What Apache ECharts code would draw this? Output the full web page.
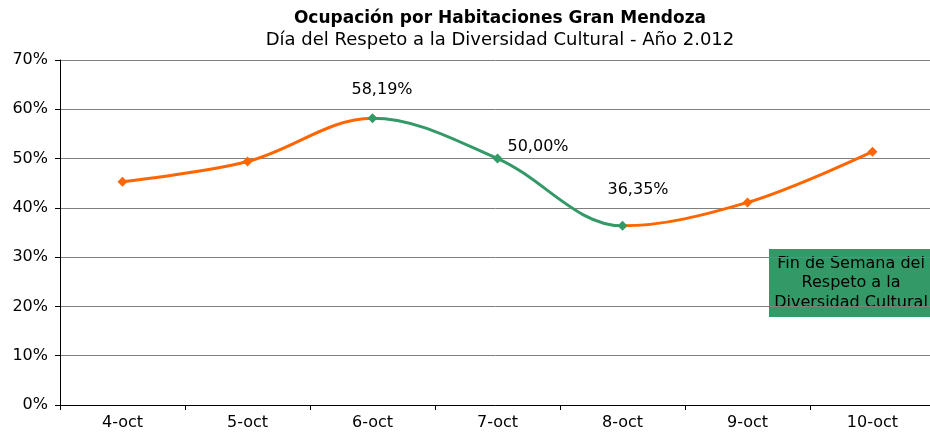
<!DOCTYPE html>
<html lang="es">
  <head>
    <meta charset="UTF-8" />
    <title>Ocupación por Habitaciones Gran Mendoza</title>
    <script src="https://cdn.jsdelivr.net/npm/echarts@6/dist/echarts.min.js"></script>
  </head>
  <body style="margin: 0">
    <div id="main" style="width: 930px; height: 440px"></div>
    <script type="text/javascript">
      const dias = ["4-oct", "5-oct", "6-oct", "7-oct", "8-oct", "9-oct", "10-oct"];
      const ocupacion = [45.3, 49.4, 58.19, 50.0, 36.35, 41.1, 51.4];
      const etiquetas = ["", "", "58,19%", "50,00%", "36,35%", "", ""];
      const yTicks = [0, 10, 20, 30, 40, 50, 60, 70];

      const naranja = "#ff6600";
      const verde = "#339966";
      const fuente = "DejaVu Sans";

      let myChart = echarts.init(document.getElementById("main"));

      // posicion de cada etiqueta respecto del marcador
      const posEtiqueta = { 2: [-16, -31], 3: [15, -15], 4: [-10, -39] };

      const datos = ocupacion.map((v, i) => {
        const item = { value: v };
        if (etiquetas[i]) {
          item.label = { show: true, formatter: etiquetas[i], position: posEtiqueta[i] };
        }
        return item;
      });

      let options = {
        animation: false,
        title: {
          text: "Ocupación por Habitaciones Gran Mendoza",
          subtext: "Día del Respeto a la Diversidad Cultural - Año 2.012",
          left: 495,
          textAlign: "center",
          top: 5,
          itemGap: 4,
          textStyle: { fontFamily: fuente, fontSize: 17, fontWeight: "bold", color: "#000" },
          subtextStyle: { fontFamily: fuente, fontSize: 18, color: "#000" },
        },
        grid: { left: 60, width: 875, top: 60, bottom: 35, outerBoundsMode: "none" },
        xAxis: {
          type: "category",
          data: dias,
          axisLine: { lineStyle: { color: "#000", width: 1 } },
          axisTick: { show: true, length: 5, lineStyle: { color: "#000" } },
          axisLabel: { fontFamily: fuente, fontSize: 16, color: "#000", margin: 10 },
        },
        yAxis: {
          type: "value",
          min: 0,
          max: 70,
          interval: 10,
          axisLine: { show: true, lineStyle: { color: "#000" } },
          axisTick: { show: true, length: 5, lineStyle: { color: "#000" } },
          axisLabel: {
            fontFamily: fuente,
            fontSize: 16,
            color: "#000",
            margin: 12,
            formatter: (v) => (yTicks.includes(v) ? v + "%" : ""),
          },
          splitLine: { lineStyle: { color: "#7f7f7f", width: 1 } },
        },
        visualMap: {
          show: false,
          type: "piecewise",
          dimension: 0,
          seriesIndex: 0,
          pieces: [
            { lt: 2, color: naranja },
            { gte: 2, lte: 4, color: verde },
            { gt: 4, color: naranja },
          ],
        },
        series: [
          {
            type: "line",
            data: datos,
            smooth: 0.35,
            symbol: "diamond",
            symbolSize: 10,
            lineStyle: { width: 3 },
            label: {
              show: false,
              fontFamily: fuente,
              fontSize: 16,
              color: "#000",
            },
          },
        ],
        graphic: [
          {
            type: "rect",
            shape: { x: 769, y: 249, width: 170, height: 68 },
            style: { fill: verde },
          },
          {
            type: "text",
            x: 851,
            y: 283,
            style: {
              text: "Fin de Semana del\nRespeto a la\nDiversidad Cultural",
              fontFamily: fuente,
              fontSize: 16,
              lineHeight: 19.5,
              fill: "#000",
              align: "center",
              verticalAlign: "middle",
            },
          },
        ],
      };

      myChart.setOption(options);
    </script>
  </body>
</html>
